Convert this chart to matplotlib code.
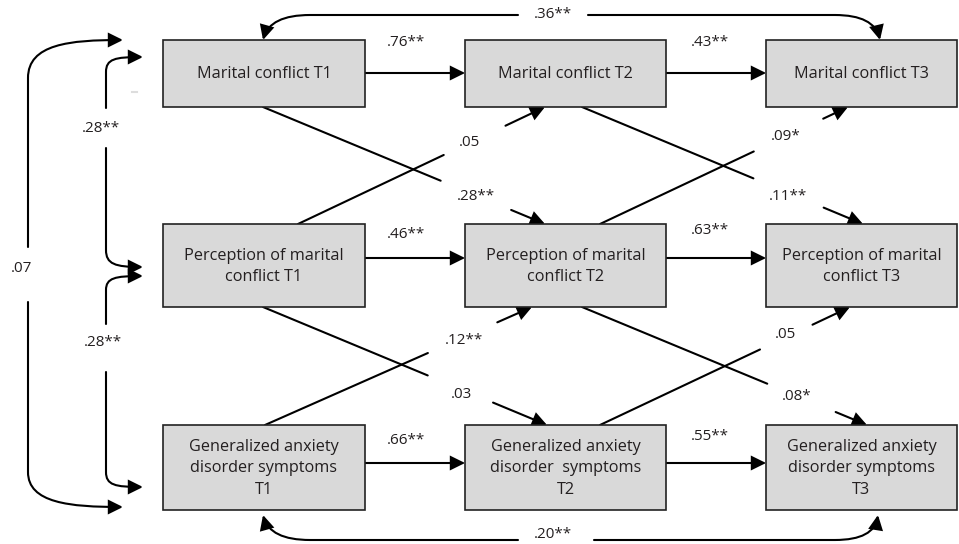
import matplotlib
matplotlib.use("Agg")
import matplotlib.pyplot as plt
from matplotlib.patches import Rectangle, FancyArrowPatch
from matplotlib.path import Path

plt.rcParams['font.family'] = ['Open Sans', 'DejaVu Sans']

# node labels, rows = constructs, columns = waves
NODE_TEXT = [
    ['Marital conflict T1', 'Marital conflict T2', 'Marital conflict T3'],
    ['Perception of marital\nconflict T1', 'Perception of marital\nconflict T2', 'Perception of marital\nconflict T3'],
    ['Generalized anxiety\ndisorder symptoms\nT1', 'Generalized anxiety\ndisorder  symptoms\nT2',
     'Generalized anxiety\ndisorder symptoms\nT3'],
]

# autoregressive paths (row, T1->T2, T2->T3)
AUTO_COEF = [['.76**', '.43**'], ['.46**', '.63**'], ['.66**', '.55**']]

# cross-lagged paths: (from row, from col, to row, to col, label)
CROSS_PATHS = [
    (0, 0, 1, 1, '.28**'),
    (1, 0, 0, 1, '.05'),
    (0, 1, 1, 2, '.11**'),
    (1, 1, 0, 2, '.09*'),
    (1, 0, 2, 1, '.03'),
    (2, 0, 1, 1, '.12**'),
    (1, 1, 2, 2, '.08*'),
    (2, 1, 1, 2, '.05'),
]

# correlations
COR_MC1_MC3 = '.36**'
COR_GAD1_GAD3 = '.20**'
COR_MC1_GAD1 = '.07'
COR_MC1_PMC1 = '.28**'
COR_PMC1_GAD1 = '.28**'

# ---- layout (pixels) ----
COL_X = [(163, 365), (465, 666), (766, 957)]
ROW_Y = [(40, 107), (224, 307), (425, 510)]
AUTO_Y = [73, 258, 463]
AUTO_LAB = [[(406, 43), (710, 43)], [(406, 234), (710, 230)], [(406, 440), (710, 437)]]

# cross-lag geometry: start, end, gap fraction, label center
CROSS_GEOM = [
    ((263, 107), (545, 224), (0.63, 0.88), (476, 196)),
    ((298, 224), (545, 107), (0.59, 0.84), (469, 142)),
    ((582, 107), (863, 224), (0.61, 0.86), (788, 196)),
    ((600, 224), (848, 107), (0.62, 0.90), (786, 136)),
    ((263, 307), (547, 425), (0.58, 0.81), (461, 394)),
    ((265, 425), (532, 307), (0.61, 0.87), (464, 340)),
    ((582, 307), (867, 425), (0.65, 0.89), (797, 397)),
    ((600, 425), (850, 307), (0.64, 0.85), (786, 335)),
]

LW = 1.5
HEAD = 'head_length=0.85,head_width=0.42'
FS_NODE = 11.7
FS_COEF = 11
TXT = '#231f20'

fig = plt.figure(figsize=(9.59, 5.44), dpi=100)
ax = fig.add_axes([0, 0, 1, 1])
ax.set_xlim(0, 959)
ax.set_ylim(544, 0)
ax.axis('off')


def arrow_path(verts, codes, start_arrow=False, end_arrow=True):
    if start_arrow and end_arrow:
        style = '<|-|>,' + HEAD
    elif start_arrow:
        style = '<|-,' + HEAD
    elif end_arrow:
        style = '-|>,' + HEAD
    else:
        style = '-'
    p = FancyArrowPatch(path=Path(verts, codes), arrowstyle=style, mutation_scale=10,
                        lw=LW, color='black', shrinkA=0, shrinkB=0, joinstyle='miter')
    ax.add_patch(p)


def seg(p0, p1, head=False):
    arrow_path([p0, p1], [Path.MOVETO, Path.LINETO], end_arrow=head)


# boxes
for r in range(3):
    for c in range(3):
        x0, x1 = COL_X[c]
        y0, y1 = ROW_Y[r]
        ax.add_patch(Rectangle((x0, y0), x1 - x0, y1 - y0, facecolor='#d9d9d9',
                               edgecolor='#222222', lw=1.2, zorder=2))
        ax.text((x0 + x1) / 2, (y0 + y1) / 2 + 1, NODE_TEXT[r][c], ha='center', va='center',
                fontsize=FS_NODE, color=TXT, linespacing=1.45, zorder=3)

# autoregressive arrows
for r in range(3):
    for c in range(2):
        seg((COL_X[c][1], AUTO_Y[r]), (COL_X[c + 1][0], AUTO_Y[r]), head=True)
        ax.text(AUTO_LAB[r][c][0], AUTO_LAB[r][c][1], AUTO_COEF[r][c], ha='center', va='center',
                fontsize=FS_COEF, color=TXT)

# cross-lagged arrows
for (fr, fc, tr, tc, lab), (p0, p1, gap, lpos) in zip(CROSS_PATHS, CROSS_GEOM):
    dx, dy = p1[0] - p0[0], p1[1] - p0[1]
    a = (p0[0] + gap[0] * dx, p0[1] + gap[0] * dy)
    b = (p0[0] + gap[1] * dx, p0[1] + gap[1] * dy)
    seg(p0, a)
    seg(b, p1, head=True)
    ax.text(lpos[0], lpos[1], lab, ha='center', va='center', fontsize=FS_COEF, color=TXT)

M, L, C3, C4 = Path.MOVETO, Path.LINETO, Path.CURVE3, Path.CURVE4

# top correlation MC T1 <-> MC T3
arrow_path([(263, 40), (270, 15), (310, 15), (518, 15)], [M, C3, C3, L], start_arrow=True, end_arrow=False)
arrow_path([(588, 15), (835, 15), (874, 15), (880, 40)], [M, L, C3, C3])
ax.text(553, 15, COR_MC1_MC3, ha='center', va='center', fontsize=FS_COEF, color=TXT)

# bottom correlation GAD T1 <-> GAD T3
arrow_path([(263, 515), (270, 540), (310, 540), (518, 540)], [M, C3, C3, L], start_arrow=True, end_arrow=False)
arrow_path([(594, 540), (835, 540), (874, 540), (878, 515)], [M, L, C3, C3])
ax.text(553, 535, COR_GAD1_GAD3, ha='center', va='center', fontsize=FS_COEF, color=TXT)

# left outer correlation MC T1 <-> GAD T1
arrow_path([(28, 247), (28, 78), (28, 44), (70, 40), (123, 40)], [M, L, C4, C4, C4])
arrow_path([(28, 302), (28, 472), (28, 503), (70, 507), (123, 507)], [M, L, C4, C4, C4])
ax.text(22, 268, COR_MC1_GAD1, ha='center', va='center', fontsize=FS_COEF, color=TXT)

# inner correlations
arrow_path([(106, 108), (106, 72), (106, 59), (115, 57), (143, 57)], [M, L, C4, C4, C4])
arrow_path([(106, 148), (106, 250), (106, 264), (115, 267), (143, 267)], [M, L, C4, C4, C4])
ax.text(101, 128, COR_MC1_PMC1, ha='center', va='center', fontsize=FS_COEF, color=TXT)
arrow_path([(106, 324), (106, 290), (106, 278), (115, 276), (143, 276)], [M, L, C4, C4, C4])
arrow_path([(106, 372), (106, 472), (106, 485), (115, 487), (143, 487)], [M, L, C4, C4, C4])
ax.text(103, 342, COR_PMC1_GAD1, ha='center', va='center', fontsize=FS_COEF, color=TXT)

# stray mark in the original
ax.plot([132, 137], [92, 92], color='#dddddd', lw=1.5)

fig.savefig('out.png', dpi=100)
